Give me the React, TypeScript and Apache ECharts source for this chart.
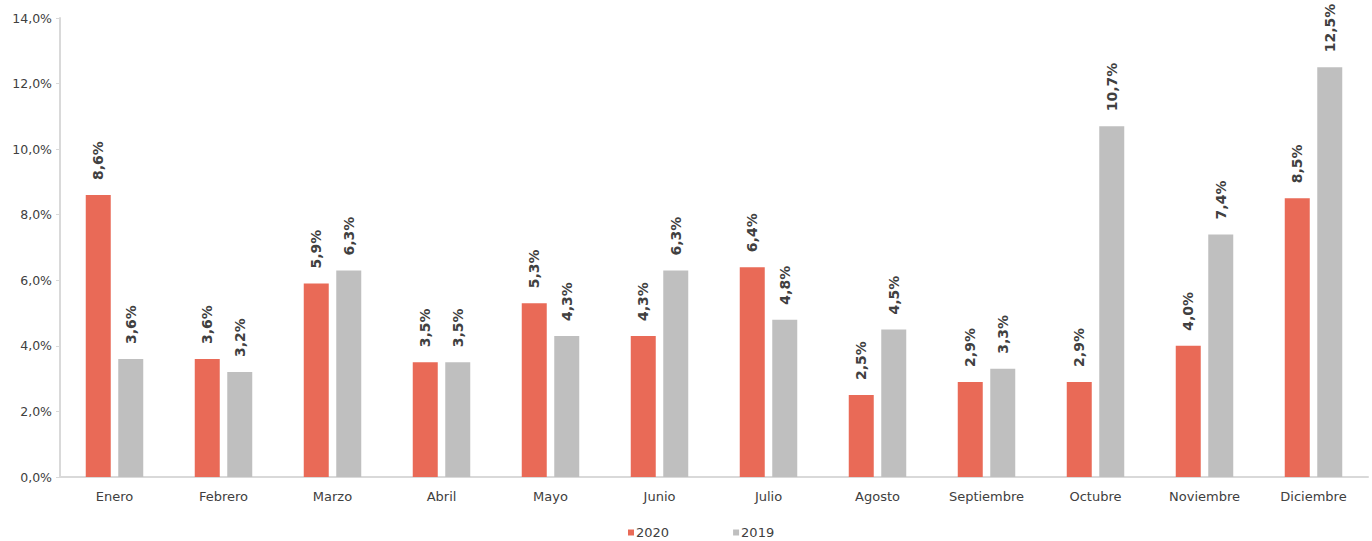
import React, { useEffect, useRef } from "react";
import * as echarts from "echarts";

const months = ["Enero", "Febrero", "Marzo", "Abril", "Mayo", "Junio", "Julio", "Agosto", "Septiembre", "Octubre", "Noviembre", "Diciembre"];
const values2020 = [8.6, 3.6, 5.9, 3.5, 5.3, 4.3, 6.4, 2.5, 2.9, 2.9, 4.0, 8.5];
const values2019 = [3.6, 3.2, 6.3, 3.5, 4.3, 6.3, 4.8, 4.5, 3.3, 10.7, 7.4, 12.5];

const FONT = "'DejaVu Sans', sans-serif";
const fmt = (v: number) => v.toFixed(1).replace(".", ",") + "%";

export default function App() {
  const ref = useRef<HTMLDivElement>(null);
  useEffect(() => {
    const chart = echarts.init(ref.current!, null, { renderer: "svg" });
    const label = {
      show: true,
      position: "top" as const,
      rotate: 90,
      align: "left" as const,
      verticalAlign: "middle" as const,
      distance: 15,
      color: "#404040",
      fontWeight: "bold" as const,
      fontSize: 14,
      fontFamily: FONT,
      formatter: (p: any) => fmt(p.value),
    };
    chart.setOption({
      animation: false,
      textStyle: { fontFamily: FONT },
      grid: { left: 60, right: 4, top: 18, bottom: 64, containLabel: false },
      legend: {
        top: 521,
        left: 623,
        padding: 5,
        itemWidth: 6,
        itemHeight: 6,
        itemGap: 64,
        icon: "rect",
        textStyle: { color: "#404040", fontSize: 13, fontFamily: FONT, padding: [0, 0, 0, -3] },
        data: ["2020", "2019"],
      },
      xAxis: {
        type: "category",
        data: months,
        axisLine: { lineStyle: { color: "#D9D9D9", width: 2 } },
        axisTick: { show: false },
        axisLabel: { color: "#404040", fontSize: 13, fontFamily: FONT, margin: 13 },
      },
      yAxis: {
        type: "value",
        min: 0,
        max: 14,
        interval: 2,
        axisLine: { show: true, lineStyle: { color: "#D9D9D9", width: 2 } },
        axisTick: { show: true, length: 4, lineStyle: { color: "#D9D9D9" } },
        splitLine: { show: false },
        axisLabel: { color: "#404040", fontSize: 12.5, fontFamily: FONT, margin: 8, formatter: (v: number) => fmt(v) },
      },
      series: [
        {
          name: "2020",
          type: "bar",
          data: values2020,
          barWidth: 25,
          barGap: "30%",
          itemStyle: { color: "#E96A57" },
          label,
        },
        {
          name: "2019",
          type: "bar",
          data: values2019,
          barWidth: 25,
          barGap: "30%",
          itemStyle: { color: "#BFBFBF" },
          label,
        },
      ],
    });
    return () => chart.dispose();
  }, []);
  return <div ref={ref} style={{ position: "absolute", left: 0, top: 0, width: 1372, height: 541 }} />;
}
